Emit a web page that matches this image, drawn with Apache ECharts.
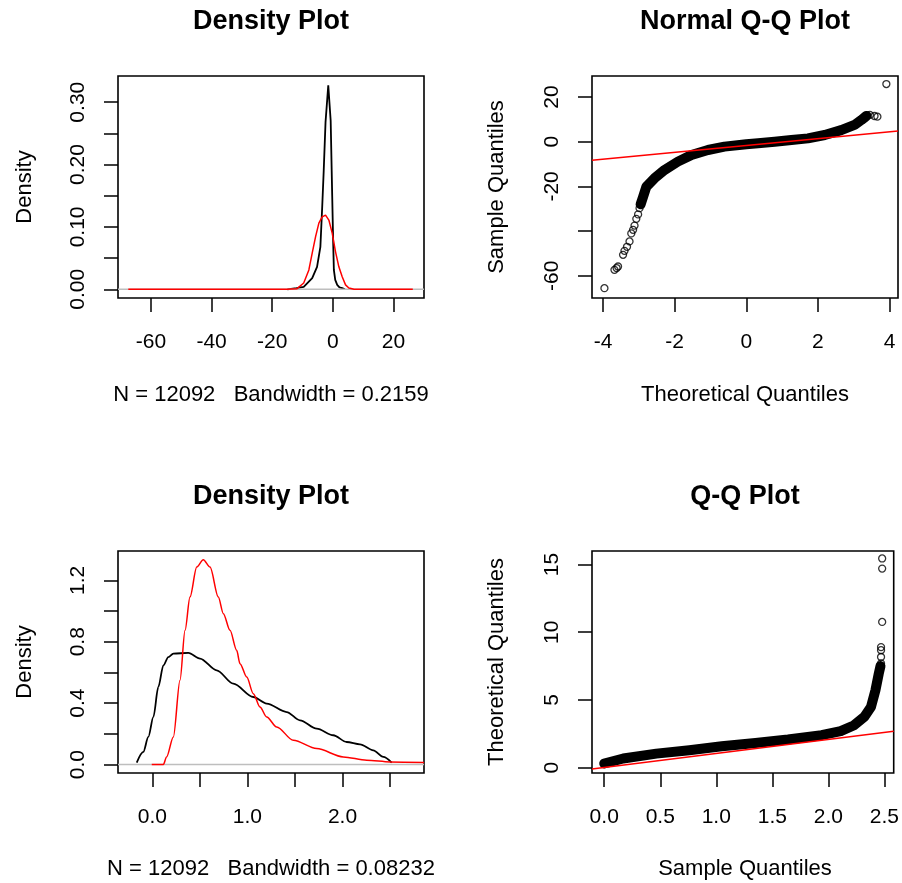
<!DOCTYPE html>
<html>
<head>
<meta charset="utf-8">
<script src="https://cdn.jsdelivr.net/npm/echarts@6/dist/echarts.min.js"></script>
<style>
html,body{margin:0;padding:0;background:#fff;}
#chart{width:902px;height:883px;}
</style>
</head>
<body>
<div id="chart"></div>
<script>
// ---------- Panel 1: Density Plot (top-left) ----------
var dens1BlackX = [-15, -12, -9.6, -6.8, -5.2, -4.1, -3.5, -3.0, -2.4, -2.0, -1.8, -1.5, -1.2, -0.9, -0.7, -0.4, -0.2, 0.1, 0.35, 0.8, 1.45, 2.2, 3.1, 4];
var dens1BlackY = [0, 0.002, 0.004, 0.018, 0.036, 0.068, 0.132, 0.19, 0.268, 0.268, 0.27, 0.327, 0.33, 0.327, 0.27, 0.268, 0.15, 0.08, 0.031, 0.015, 0.007, 0.003, 0.002, 0];
var dens1RedX = [-67.5, -15, -11.8, -9.6, -7.9, -6.8, -5.7, -4.6, -3.5, -2.4, -1.3, -0.2, 0.9, 2.0, 3.1, 4.2, 5.3, 7, 26.4];
var dens1RedY = [0, 0, 0.001, 0.01, 0.031, 0.058, 0.084, 0.106, 0.116, 0.119, 0.111, 0.09, 0.06, 0.036, 0.02, 0.007, 0.002, 0, 0];
var p1XTicks = [-60, -40, -20, 0, 20];
var p1YTicks = [0, 0.05, 0.10, 0.15, 0.20, 0.25, 0.30];
var p1YLabels = [0, 0.10, 0.20, 0.30];

// ---------- Panel 2: Normal Q-Q Plot (top-right) ----------
var qq2BandX = [-2.95, -2.88, -2.79, -2.56, -2.28, -1.91, -1.53, -1.07, -0.61, 0, 0.33, 0.79, 1.26, 1.72, 2.19, 2.65, 3.02, 3.21, 3.35];
var qq2BandY = [-28, -24.6, -20.1, -16.3, -12.6, -8.9, -5.9, -3.7, -2.2, -1.1, -0.7, 0.0, 0.8, 1.5, 3.0, 5.2, 7.5, 9.7, 11.5];
var qq2PtsX = [-3.96, -3.68, -3.62, -3.58, -3.44, -3.40, -3.33, -3.26, -3.21, -3.16, -3.12, -3.07, -3.02, -2.98, -2.93, 3.30, 3.38, 3.45, 3.58, 3.66, 3.91];
var qq2PtsY = [-65.5, -57.3, -56.5, -55.8, -50.6, -48.8, -47.0, -44.6, -41.0, -39.4, -37.5, -34.5, -32.5, -29.7, -27.0, 10.5, 11.8, 12.0, 11.5, 11.2, 25.8];
var qq2LineX = [-4.307, 4.235];
var qq2LineY = [-8.3, 4.8];
var p2XTicks = [-4, -2, 0, 2, 4];
var p2YTicks = [-60, -40, -20, 0, 20];
var p2YLabels = [-60, -20, 0, 20];

// ---------- Panel 3: Density Plot (bottom-left) ----------
var dens3BlackX = [-0.164, -0.095, -0.042, 0.011, 0.063, 0.116, 0.168, 0.221, 0.379, 0.502, 0.677, 0.852, 1.062, 1.203, 1.413, 1.553, 1.729, 1.903, 2.044, 2.184, 2.324, 2.429, 2.517];
var dens3BlackY = [0.013, 0.082, 0.18, 0.31, 0.505, 0.646, 0.70, 0.723, 0.727, 0.69, 0.614, 0.527, 0.44, 0.397, 0.342, 0.288, 0.234, 0.191, 0.147, 0.132, 0.093, 0.05, 0.013];
var dens3RedX = [-0.006, 0.116, 0.15, 0.221, 0.291, 0.344, 0.396, 0.467, 0.536, 0.607, 0.694, 0.747, 0.817, 0.887, 0.922, 0.993, 1.062, 1.132, 1.203, 1.308, 1.483, 1.728, 2.008, 2.254, 2.5, 2.857];
var dens3RedY = [0, 0, 0.05, 0.18, 0.549, 0.874, 1.091, 1.286, 1.334, 1.286, 1.091, 0.983, 0.874, 0.744, 0.657, 0.57, 0.462, 0.375, 0.31, 0.245, 0.158, 0.104, 0.05, 0.028, 0.017, 0.013];
var p3XTicks = [0, 0.5, 1.0, 1.5, 2.0, 2.5];
var p3XLabels = [0, 1.0, 2.0];
var p3YTicks = [0, 0.2, 0.4, 0.6, 0.8, 1.0, 1.2];
var p3YLabels = [0, 0.4, 0.8, 1.2];

// ---------- Panel 4: Q-Q Plot (bottom-right) ----------
var qq4BandX = [0.0, 0.17, 0.465, 0.76, 1.05, 1.35, 1.64, 1.94, 2.11, 2.23, 2.32, 2.38, 2.42, 2.45, 2.465];
var qq4BandY = [0.3, 0.67, 1.03, 1.28, 1.57, 1.82, 2.07, 2.39, 2.7, 3.13, 3.74, 4.48, 5.71, 6.95, 7.5];
var qq4PtsX = [2.47, 2.47, 2.47, 2.47, 2.48, 2.48, 2.48];
var qq4PtsY = [7.7, 8.17, 8.67, 8.9, 10.76, 14.7, 15.45];
var qq4LineX = [-0.109, 2.583];
var qq4LineY = [-0.11, 2.68];
var p4XTicks = [0, 0.5, 1.0, 1.5, 2.0, 2.5];
var p4YTicks = [0, 5, 10, 15];

// ---------- texts ----------
var titles = ['Density Plot', 'Normal Q-Q Plot', 'Density Plot', 'Q-Q Plot'];
var xNames = ['N = 12092   Bandwidth = 0.2159', 'Theoretical Quantiles', 'N = 12092   Bandwidth = 0.08232', 'Sample Quantiles'];
var yNames = ['Density', 'Sample Quantiles', 'Density', 'Theoretical Quantiles'];

function zip(xs, ys) { return xs.map(function (x, i) { return [x, ys[i]]; }); }

var FONT = "'Liberation Sans', Arial, sans-serif";
var grids = [
  {left: 118, top: 76, width: 306, height: 222},
  {left: 592, top: 76, width: 306, height: 222},
  {left: 118, top: 551, width: 306, height: 222},
  {left: 592, top: 551, width: 305, height: 222}
];
grids.forEach(function (g) { g.show = true; g.borderColor = '#000'; g.borderWidth = 1.6; g.backgroundColor = 'transparent'; g.containLabel = false; });

function xAxis(idx, min, max, ticks, labels, fmt) {
  return {
    type: 'value', gridIndex: idx, min: min, max: max, position: 'bottom',
    axisLine: {show: false, onZero: false},
    splitLine: {show: false},
    axisTick: {show: true, length: 14, customValues: ticks, lineStyle: {color: '#000', width: 1.5}},
    axisLabel: {show: true, customValues: labels, margin: 34, fontSize: 21, color: '#000', fontFamily: FONT,
      formatter: function (v) { return fmt(v); }}
  };
}
function yAxis(idx, min, max, ticks, labels, fmt) {
  return {
    type: 'value', gridIndex: idx, min: min, max: max, position: 'left',
    axisLine: {show: false, onZero: false},
    splitLine: {show: false},
    axisTick: {show: true, length: 14, customValues: ticks, lineStyle: {color: '#000', width: 1.5}},
    axisLabel: {show: true, customValues: labels, rotate: 90, margin: 29, fontSize: 21, color: '#000', fontFamily: FONT,
      formatter: function (v) { return fmt(v); }}
  };
}
function f0(v) { return String(Math.round(v)); }
function f1(v) { return Number(v).toFixed(1); }
function f2(v) { return Number(v).toFixed(2); }

function lineSeries(gi, data, color, width, z, smooth) {
  return {type: 'line', xAxisIndex: gi, yAxisIndex: gi, data: data, showSymbol: false, symbol: 'none',
    smooth: smooth || false, smoothMonotone: 'x',
    lineStyle: {color: color, width: width}, silent: true, animation: false, z: z};
}
function bandSeries(gi, data) {
  return {type: 'line', xAxisIndex: gi, yAxisIndex: gi, data: data, showSymbol: false, symbol: 'none',
    lineStyle: {color: '#000', width: 10, cap: 'round', join: 'round'}, silent: true, animation: false, z: 2};
}
function ptSeries(gi, data) {
  return {type: 'scatter', xAxisIndex: gi, yAxisIndex: gi, data: data, symbol: 'circle', symbolSize: 7,
    itemStyle: {color: 'rgba(0,0,0,0)', borderColor: '#000', borderWidth: 1.3}, silent: true, animation: false, z: 3};
}

var p1X = [-70.9, 30.1], p1Y = [-0.014, 0.342];
var p3X = [-0.361, 2.857], p3Y = [-0.055, 1.391];

var graphics = [];
var centersX = [271, 745, 271, 745];
var titleY = [22, 22, 497, 497];
var xNameY = [395, 395, 869, 869];
var yNameX = [25, 497, 25, 497];
var yNameY = [187, 187, 662, 662];
for (var i = 0; i < 4; i++) {
  graphics.push({type: 'text', x: centersX[i], y: titleY[i], style: {text: titles[i], font: 'bold 27px ' + FONT, fill: '#000', textAlign: 'center', textVerticalAlign: 'middle'}});
  graphics.push({type: 'text', x: centersX[i], y: xNameY[i], style: {text: xNames[i], font: '22px ' + FONT, fill: '#000', textAlign: 'center', textVerticalAlign: 'middle'}});
  graphics.push({type: 'text', x: yNameX[i], y: yNameY[i], rotation: Math.PI / 2, style: {text: yNames[i], font: '22px ' + FONT, fill: '#000', textAlign: 'center', textVerticalAlign: 'middle'}});
}

var option = {
  animation: false,
  backgroundColor: '#fff',
  grid: grids,
  xAxis: [
    xAxis(0, p1X[0], p1X[1], p1XTicks, p1XTicks, f0),
    xAxis(1, -4.307, 4.235, p2XTicks, p2XTicks, f0),
    xAxis(2, p3X[0], p3X[1], p3XTicks, p3XLabels, f1),
    xAxis(3, -0.109, 2.583, p4XTicks, p4XTicks, f1)
  ],
  yAxis: [
    yAxis(0, p1Y[0], p1Y[1], p1YTicks, p1YLabels, f2),
    yAxis(1, -69.9, 29.4, p2YTicks, p2YLabels, f0),
    yAxis(2, p3Y[0], p3Y[1], p3YTicks, p3YLabels, f1),
    yAxis(3, -0.4, 16.0, p4YTicks, p4YTicks, f0)
  ],
  graphic: graphics,
  series: [
    // panel 1
    lineSeries(0, zip(dens1BlackX, dens1BlackY), '#000', 1.8, 2),
    lineSeries(0, [[p1X[0], 0], [p1X[1], 0]], '#bebebe', 1.5, 3),
    lineSeries(0, zip(dens1RedX, dens1RedY), '#ff0000', 1.5, 4),
    // panel 2
    bandSeries(1, zip(qq2BandX, qq2BandY)),
    ptSeries(1, zip(qq2PtsX, qq2PtsY)),
    lineSeries(1, zip(qq2LineX, qq2LineY), '#ff0000', 1.5, 4),
    // panel 3
    lineSeries(2, zip(dens3BlackX, dens3BlackY), '#000', 1.8, 2, 0.3),
    lineSeries(2, [[p3X[0], 0], [p3X[1], 0]], '#bebebe', 1.5, 3),
    lineSeries(2, zip(dens3RedX, dens3RedY), '#ff0000', 1.5, 4, 0.3),
    // panel 4
    bandSeries(3, zip(qq4BandX, qq4BandY)),
    ptSeries(3, zip(qq4PtsX, qq4PtsY)),
    lineSeries(3, zip(qq4LineX, qq4LineY), '#ff0000', 1.5, 4)
  ]
};
var chart = echarts.init(document.getElementById('chart'), null, {renderer: 'canvas'});
chart.setOption(option);
</script>
</body>
</html>
